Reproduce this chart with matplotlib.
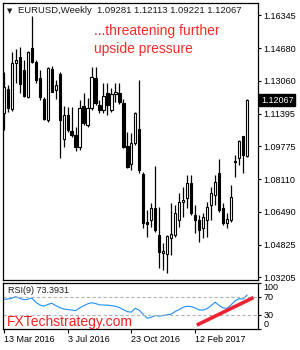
import matplotlib
matplotlib.use('Agg')
import matplotlib.pyplot as plt
from matplotlib.patches import Rectangle
from matplotlib.transforms import blended_transform_factory

# weekly EURUSD candles (13 Mar 2016 .. mid May 2017)
opens = [1.1143, 1.1263, 1.1163, 1.1394, 1.1424, 1.1359, 1.1223, 1.1469, 1.1399, 1.1319,
         1.1213, 1.1108, 1.1364, 1.1258, 1.1339, 1.1013, 1.1133, 1.1053, 1.1033, 1.0973,
         1.1178, 1.1083, 1.1168, 1.1319, 1.1183, 1.1158, 1.1243, 1.1158, 1.1238, 1.1243,
         1.1193, 1.0978, 1.0887, 1.0993, 1.1063, 1.0837, 1.0596, 1.0606, 1.0667, 1.0531,
         1.0441, 1.0436, 1.0516, 1.0531, 1.0606, 1.0697, 1.0717, 1.0792, 1.0631, 1.0606,
         1.0566, 1.0606, 1.0682, 1.0732, 1.0842, 1.0667, 1.0591, 1.0606, 1.0903, 1.0917,
         1.1028, 1.09281]
highs = [1.1349, 1.1283, 1.1449, 1.1464, 1.1474, 1.1409, 1.1454, 1.1630, 1.1409, 1.1359,
         1.1223, 1.1374, 1.1379, 1.1309, 1.1349, 1.1178, 1.1173, 1.1173, 1.1073, 1.1208,
         1.1243, 1.1218, 1.1374, 1.1374, 1.1208, 1.1294, 1.1294, 1.1268, 1.1294, 1.1294,
         1.1213, 1.1048, 1.1043, 1.1148, 1.1309, 1.0847, 1.0656, 1.0692, 1.0877, 1.0672,
         1.0491, 1.0531, 1.0692, 1.0682, 1.0742, 1.0772, 1.0832, 1.0832, 1.0682, 1.0631,
         1.0642, 1.0697, 1.0772, 1.0832, 1.0913, 1.0692, 1.0642, 1.0782, 1.0933, 1.1008,
         1.1028, 1.12113]
lows = [1.1058, 1.1148, 1.1153, 1.1294, 1.1243, 1.1223, 1.1218, 1.1394, 1.1294, 1.1208,
        1.1108, 1.1098, 1.1248, 1.1213, 1.0917, 1.0973, 1.1048, 1.1023, 1.0952, 1.0957,
        1.1083, 1.1073, 1.1158, 1.1183, 1.1143, 1.1143, 1.1133, 1.1148, 1.1198, 1.1188,
        1.0968, 1.0867, 1.0857, 1.0983, 1.0842, 1.0566, 1.0521, 1.0571, 1.0546, 1.0366,
        1.0356, 1.0341, 1.0431, 1.0521, 1.0571, 1.0621, 1.0667, 1.0631, 1.0541, 1.0496,
        1.0516, 1.0521, 1.0606, 1.0682, 1.0646, 1.0581, 1.0566, 1.0596, 1.0822, 1.0882,
        1.0842, 1.09221]
closes = [1.1273, 1.1168, 1.1394, 1.1409, 1.1288, 1.1228, 1.1449, 1.1399, 1.1309, 1.1223,
          1.1113, 1.1369, 1.1248, 1.1283, 1.1108, 1.1133, 1.1058, 1.1033, 1.0973, 1.1168,
          1.1093, 1.1168, 1.1324, 1.1193, 1.1158, 1.1228, 1.1183, 1.1238, 1.1248, 1.1198,
          1.0973, 1.0872, 1.0993, 1.1143, 1.0857, 1.0591, 1.0586, 1.0667, 1.0556, 1.0446,
          1.0451, 1.0526, 1.0536, 1.0642, 1.0697, 1.0707, 1.0792, 1.0642, 1.0606, 1.0556,
          1.0621, 1.0672, 1.0742, 1.0797, 1.0657, 1.0591, 1.0611, 1.0722, 1.0897, 1.1003,
          1.0932, 1.12067]

rsi = [64.0, 64.8, 66.3, 70.1, 66.3, 63.3, 64.0, 67.0, 58.0, 52.0,
       49.0, 52.7, 55.7, 50.5, 46.0, 43.0, 41.4, 40.7, 39.1, 45.2,
       49.7, 54.2, 56.5, 55.0, 52.0, 51.6, 51.5, 50.1, 48.9, 46.0,
       41.4, 36.9, 36.1, 44.4, 39.9, 30.9, 22.6, 24.8, 28.6, 27.1,
       28.6, 30.1, 31.6, 37.6, 41.4, 46.7, 48.9, 48.2, 45.2, 40.7,
       40.7, 43.7, 50.5, 58.0, 50.5, 45.2, 44.4, 52.0, 61.0, 65.5,
       64.8, 73.39]

price_ticks = [1.16345, 1.14680, 1.13060, 1.11395, 1.09775, 1.08110, 1.06490, 1.04825, 1.03205]
date_ticks = [0, 16, 32, 48]
date_labels = ['13 Mar 2016', '3 Jul 2016', '23 Oct 2016', '12 Feb 2017']
rsi_levels = [70, 30]
trend_x = [48.4, 62.6]
trend_y = [7.5, 68.0]

plt.rcParams['font.family'] = ['Liberation Sans', 'DejaVu Sans']

fig = plt.figure(figsize=(3, 3.5), dpi=100)
ax = fig.add_axes([0.01, 0.2014, 0.85, 0.790])
ax_rsi = fig.add_axes([0.01, 0.0614, 0.85, 0.13])

# candles
body_w = 0.55
for i in range(len(opens)):
    o, h, l, c = opens[i], highs[i], lows[i], closes[i]
    ax.plot([i, i], [l, h], color='black', lw=0.9, zorder=2, solid_capstyle='butt')
    bottom = min(o, c)
    height = max(abs(c - o), 0.0004)
    face = 'white' if c >= o else 'black'
    ax.add_patch(Rectangle((i - body_w / 2, bottom), body_w, height,
                           facecolor=face, edgecolor='black', lw=0.8, zorder=3))

n = len(opens)
ax.set_xlim(-0.2, 63.75)
ax.set_ylim(1.0308, 1.16947)
ax.yaxis.tick_right()
ax.set_yticks(price_ticks)
ax.set_yticklabels([f'{t:.5f}' for t in price_ticks])
ax.tick_params(axis='y', length=2, width=0.8, labelsize=6.5, pad=2, colors='black')
ax.set_xticks([])
for sp in ax.spines.values():
    sp.set_linewidth(0.9)

# last price tag
trans = blended_transform_factory(ax.transAxes, ax.transData)
ax.text(1.012, closes[-1], f'{closes[-1]:.5f}', transform=trans, color='white',
        fontsize=6.5, va='center', ha='left',
        bbox=dict(facecolor='black', edgecolor='black', pad=1.2))

# header and comment
ax.text(0.015, 0.972, '\u25bc', transform=ax.transAxes, fontsize=5, va='center',
        ha='left', family='DejaVu Sans', color='#222222')
ax.text(0.06, 0.972, 'EURUSD,Weekly  1.09281 1.12113 1.09221 1.12067',
        transform=ax.transAxes, fontsize=6.8, va='center', ha='left', color='#1a1a1a')
ax.text(0.355, 0.866, '...threatening further\nupside pressure', transform=ax.transAxes,
        fontsize=10, va='center', ha='left', color='#ff2a2a', linespacing=1.3)

# RSI panel
xs = list(range(n))
ax_rsi.plot(xs, rsi, color='#1e90ff', lw=0.8)
for lvl in rsi_levels:
    ax_rsi.axhline(lvl, color='#b4b4b4', lw=0.8, ls=(0, (3, 2)))
ax_rsi.plot(trend_x, trend_y, color='#ee2233', lw=2.6, solid_capstyle='butt')
ax_rsi.set_xlim(-0.2, 63.75)
ax_rsi.set_ylim(0, 100)
ax_rsi.yaxis.tick_right()
ax_rsi.set_yticks([100, 70, 30, 0])
ax_rsi.set_yticklabels(['100', '70', '30', '0'])
ax_rsi.tick_params(axis='y', length=2, width=0.8, labelsize=6.5, pad=2)
labs = ax_rsi.get_yticklabels()
labs[0].set_va('top')
labs[-1].set_va('bottom')
ax_rsi.set_xticks(date_ticks)
ax_rsi.set_xticklabels(date_labels)
ax_rsi.tick_params(axis='x', length=3, width=0.8, labelsize=6.5, pad=2)
for lbl in ax_rsi.get_xticklabels():
    lbl.set_ha('left')
for sp in ax_rsi.spines.values():
    sp.set_linewidth(0.9)

ax_rsi.text(0.02, 0.84, 'RSI(9) 73.3931', transform=ax_rsi.transAxes, fontsize=6.5,
            va='center', ha='left', color='#1a1a1a')
ax_rsi.text(0.015, 0.15, 'FXTechstrategy.com', transform=ax_rsi.transAxes, fontsize=10,
            va='center', ha='left', color='#ff2020')

fig.savefig('out.png', dpi=100)
